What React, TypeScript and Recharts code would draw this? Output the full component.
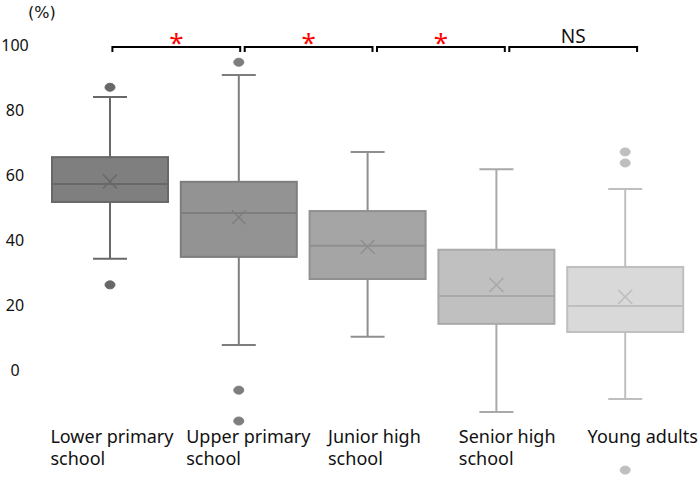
import { ComposedChart, Bar, XAxis, YAxis, ReferenceLine } from 'recharts'

// values (%)
const categories = ['Lower primary school', 'Upper primary school', 'Junior high school', 'Senior high school', 'Young adults']
const whiskerLow = [34.2, 7.7, 10.2, -12.9, -8.9]
const q1 = [51.7, 34.8, 28.0, 14.2, 11.7]
const median = [57.2, 48.3, 38.2, 22.8, 19.7]
const q3 = [65.5, 57.9, 48.9, 37.0, 31.7]
const whiskerHigh = [84.0, 90.8, 67.1, 61.8, 55.7]
const means = [58.0, 47.0, 37.9, 26.2, 22.5]
const outliers = [[87.0, 26.2], [94.7, -6.2, -15.7], [], [], [67.1, 63.7, -30.8]]
const yTicks = [0, 20, 40, 60, 80, 100]
const comparisons = ['*', '*', '*', 'NS']
const bracketLevel = 99.4

const FONT = '"Noto Sans", "DejaVu Sans", sans-serif'
const boxFill = ['#7f7f7f', '#939393', '#a5a5a5', '#c0c0c0', '#d9d9d9']
const boxStroke = ['#686868', '#7e7e7e', '#8f8f8f', '#a9a9a9', '#bfbfbf']
const labelDx = [-60, -53, -40, -38, -38]

const data = categories.map((name, i) => ({
  name,
  range: [whiskerLow[i], whiskerHigh[i]],
  q1: q1[i],
  median: median[i],
  q3: q3[i],
  mean: means[i],
  outliers: outliers[i],
}))

function BoxShape(props: any) {
  const { x, y, width, height, payload, index } = props
  const [lo, hi] = payload.range
  const top = Math.min(y, y + height)
  const h = Math.abs(height)
  const toY = (v: number) => top + (h * (hi - v)) / (hi - lo)
  const cx = x + width / 2
  const fill = boxFill[index]
  const stroke = boxStroke[index]
  const cap = 17
  const yq1 = toY(payload.q1)
  const yq3 = toY(payload.q3)
  const ym = toY(payload.mean)
  return (
    <g>
      <line x1={cx} x2={cx} y1={toY(hi)} y2={yq3} stroke={stroke} strokeWidth={2} />
      <line x1={cx} x2={cx} y1={yq1} y2={toY(lo)} stroke={stroke} strokeWidth={2} />
      <line x1={cx - cap} x2={cx + cap} y1={toY(hi)} y2={toY(hi)} stroke={stroke} strokeWidth={2} />
      <line x1={cx - cap} x2={cx + cap} y1={toY(lo)} y2={toY(lo)} stroke={stroke} strokeWidth={2} />
      <rect x={x} y={yq3} width={width} height={yq1 - yq3} fill={fill} stroke={stroke} strokeWidth={2} />
      <line x1={x} x2={x + width} y1={toY(payload.median)} y2={toY(payload.median)} stroke={stroke} strokeWidth={2} />
      <path d={`M${cx - 7},${ym - 7}L${cx + 7},${ym + 7}M${cx - 7},${ym + 7}L${cx + 7},${ym - 7}`} stroke={stroke} strokeWidth={1.5} fill="none" />
      {payload.outliers.map((v: number, k: number) => (
        <ellipse key={k} cx={cx} cy={toY(v)} rx={5} ry={4} fill={stroke} stroke={stroke} strokeWidth={1} />
      ))}
    </g>
  )
}

function XTick(props: any) {
  const { x, payload, index } = props
  const words = String(payload.value).split(' ')
  const lines = words.length > 2 ? [words.slice(0, -1).join(' '), words[words.length - 1]] : [payload.value]
  const lx = x + labelDx[index]
  return (
    <text x={lx} y={443} fontFamily={FONT} fontSize={18} fill="#111">
      {lines.map((l: string, k: number) => (
        <tspan key={k} x={lx} dy={k === 0 ? 0 : 22}>{l}</tspan>
      ))}
    </text>
  )
}

function YTick(props: any) {
  const { y, payload } = props
  return (
    <text x={15} y={y + 6} textAnchor="middle" fontFamily={FONT} fontSize={16} fill="#111">
      {payload.value}
    </text>
  )
}

function Bracket(props: any, i: number) {
  const { x1, y1, x2 } = props
  const shift = 2 + i * 3.5
  const a = x1 + shift
  const b = x2 + shift - 1
  const star = comparisons[i] === '*'
  return (
    <g>
      <path d={`M${a},${y1 + 5}V${y1}H${b}V${y1 + 5}`} stroke="#000" strokeWidth={2} fill="none" />
      <text
        x={(a + b) / 2}
        y={star ? y1 + 5 : y1 - 4}
        textAnchor="middle"
        fontFamily={FONT}
        fontSize={star ? 26 : 19}
        fill={star ? '#ff0000' : '#111'}
      >
        {comparisons[i]}
      </text>
    </g>
  )
}

export default function App() {
  return (
    <div style={{ position: 'fixed', left: 0, top: 0, width: 700, height: 479, background: '#fff' }}>
      <ComposedChart width={700} height={479} data={data} margin={{ top: 32, right: 10, bottom: 3, left: 0 }}>
        <XAxis dataKey="name" axisLine={false} tickLine={false} height={2} tick={<XTick />} interval={0} />
        <YAxis
          type="number"
          domain={[-32, 104]}
          ticks={yTicks}
          width={46}
          axisLine={false}
          tickLine={false}
          tick={<YTick />}
          label={{
            value: '(%)',
            content: () => (
              <text x={28} y={18} fontFamily='"DejaVu Sans", sans-serif' fontSize={16} fill="#111">(%)</text>
            ),
          }}
        />
        <Bar dataKey="range" barSize={116} shape={<BoxShape />} isAnimationActive={false} />
        {comparisons.map((c, i) => (
          <ReferenceLine
            key={i}
            ifOverflow="visible"
            segment={[{ x: categories[i], y: bracketLevel }, { x: categories[i + 1], y: bracketLevel }]}
            shape={(p: any) => Bracket(p, i)}
          />
        ))}
      </ComposedChart>
    </div>
  )
}
